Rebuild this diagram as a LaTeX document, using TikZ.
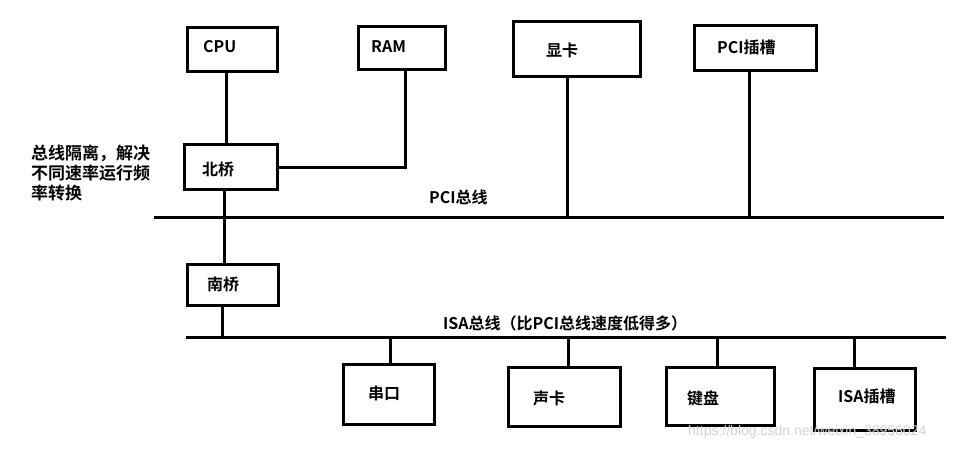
\documentclass[tikz,border=0pt]{standalone}
\usepackage{fontspec}
\setmainfont{Noto Sans CJK SC}[BoldFont={* Bold}]
\newfontfamily\wmfont{Liberation Sans}
\begin{document}
\begin{tikzpicture}[x=1pt,y=-1pt,
  box/.style={draw=black, line width=3pt, rectangle, inner sep=0pt},
  lbl/.style={anchor=west, inner sep=0pt, font=\fontsize{16}{18}\selectfont\bfseries},
  wire/.style={line width=3pt, black}]
\useasboundingbox (0,0) rectangle (970,450);
% boxes
\node[box, minimum width=90pt, minimum height=44pt] (cpu) at (232.5,49.5) {};
\node[box, minimum width=87pt, minimum height=43pt] (ram) at (402,48) {};
\node[box, minimum width=127pt, minimum height=55pt] (gpu) at (577,49) {};
\node[box, minimum width=122pt, minimum height=45pt] (pcis) at (755.5,48) {};
\node[box, minimum width=93pt, minimum height=45pt] (nb) at (231,167) {};
\node[box, minimum width=91pt, minimum height=41pt] (sb) at (233,285) {};
\node[box, minimum width=91pt, minimum height=60pt] (com) at (389,394.5) {};
\node[box, minimum width=112pt, minimum height=59pt] (snd) at (564.5,397) {};
\node[box, minimum width=108pt, minimum height=58pt] (kbd) at (720.5,396.5) {};
\node[box, minimum width=101pt, minimum height=62pt] (isas) at (865,399.5) {};
% labels
\node[lbl] (cpuT) at (203,47) {CPU};
\node[lbl] (ramT) at (371,47) {RAM};
\node[lbl] (gpuT) at (546,50) {显卡};
\node[lbl] (pcisT) at (717,47) {PCI插槽};
\node[lbl] (nbT) at (202,169) {北桥};
\node[lbl] (sbT) at (207,284) {南桥};
\node[lbl] (comT) at (368,393) {串口};
\node[lbl] (sndT) at (533,398) {声卡};
\node[lbl] (kbdT) at (687,398) {键盘};
\node[lbl] (isasT) at (838,396) {ISA插槽};
\node[lbl] (pcibT) at (429,197) {PCI总线};
\node[lbl] (isabT) at (443,323) {ISA总线（比PCI总线速度低得多）};
\node[anchor=north west, inner sep=0pt, align=left, font=\fontsize{17}{20}\selectfont\bfseries] (note) at (31,145) {总线隔离，解决\\不同速率运行频\\率转换};
% buses
\coordinate (pciL) at (154,217);
\coordinate (pciR) at (944,217);
\coordinate (isaL) at (186,337);
\coordinate (isaR) at (946,337);
\draw[wire] (pciL) -- (pciR);
\draw[wire] (isaL) -- (isaR);
% x positions of vertical wires
\coordinate (xc) at (226,0);
\coordinate (xr) at (405,0);
\coordinate (xn) at (224,0);
\coordinate (xg) at (567,0);
\coordinate (xp) at (749,0);
\coordinate (xs) at (222,0);
\coordinate (x1) at (390,0);
\coordinate (x2) at (568,0);
\coordinate (x3) at (717,0);
\coordinate (x4) at (854,0);
% connectors
\draw[wire] (cpu.south -| xc) -- (nb.north -| xc);
\draw[wire] (ram.south -| xr) |- (nb.east);
\draw[wire] (nb.south -| xn) -- (sb.north -| xn);
\draw[wire] (gpu.south -| xg) -- (pciL -| xg);
\draw[wire] (pcis.south -| xp) -- (pciL -| xp);
\draw[wire] (sb.south -| xs) -- (isaL -| xs);
\draw[wire] (isaL -| x1) -- (com.north -| x1);
\draw[wire] (isaL -| x2) -- (snd.north -| x2);
\draw[wire] (isaL -| x3) -- (kbd.north -| x3);
\draw[wire] (isaL -| x4) -- (isas.north -| x4);
% watermark
\node[anchor=west, inner sep=0pt, text=gray!35, font=\wmfont\fontsize{14}{16}\selectfont] (wm) at (688,432) {https://blog.csdn.net/weixin\_38956024};
\end{tikzpicture}
\end{document}
